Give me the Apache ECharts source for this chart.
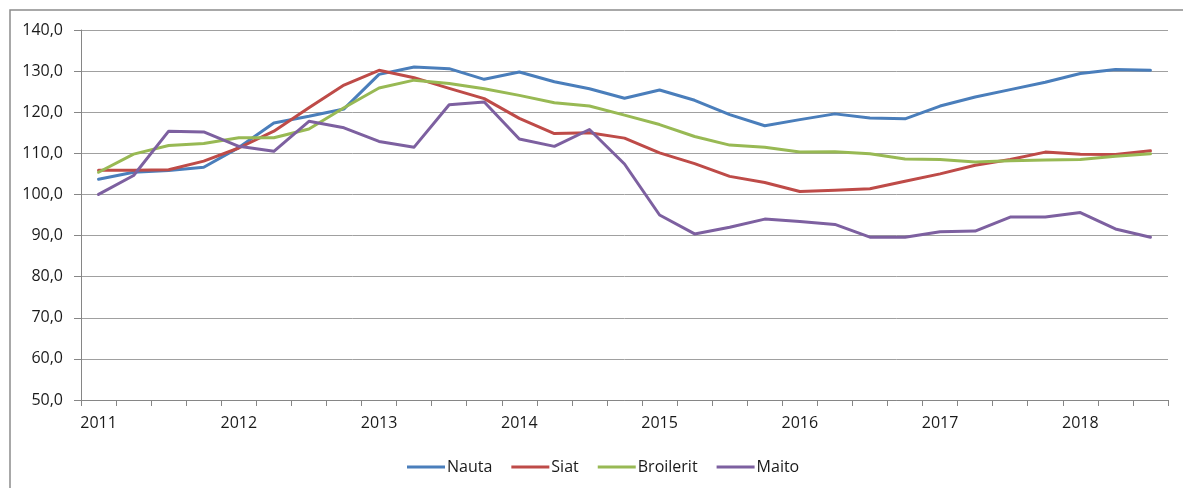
<!DOCTYPE html>
<html>
<head>
<meta charset="utf-8">
<script src="https://cdn.jsdelivr.net/npm/echarts@6/dist/echarts.min.js"></script>
<style>
  html, body { margin: 0; padding: 0; background: #fff; }
  #chart { width: 1183px; height: 488px; }
</style>
</head>
<body>
<div id="chart"></div>
<script>
var categories = [
  '2011Q1','2011Q2','2011Q3','2011Q4',
  '2012Q1','2012Q2','2012Q3','2012Q4',
  '2013Q1','2013Q2','2013Q3','2013Q4',
  '2014Q1','2014Q2','2014Q3','2014Q4',
  '2015Q1','2015Q2','2015Q3','2015Q4',
  '2016Q1','2016Q2','2016Q3','2016Q4',
  '2017Q1','2017Q2','2017Q3','2017Q4',
  '2018Q1','2018Q2','2018Q3'
];
var nauta = [103.7,105.4,105.8,106.6, 111.4,117.4,119.0,120.8, 129.2,131.0,130.6,128.0, 129.8,127.4,125.7,123.4, 125.4,122.9,119.4,116.7, 118.2,119.6,118.6,118.4, 121.5,123.7,125.5,127.3, 129.4,130.4,130.2];
var siat = [105.9,105.9,106.0,108.1, 111.3,115.4,121.1,126.6, 130.2,128.4,125.8,123.3, 118.5,114.8,115.0,113.7, 110.1,107.5,104.4,102.9, 100.7,101.0,101.4,103.2, 105.0,107.1,108.5,110.3, 109.8,109.7,110.6];
var broilerit = [105.4,109.8,111.9,112.4, 113.8,113.8,115.9,121.1, 125.9,127.8,127.0,125.7, 124.1,122.3,121.5,119.3, 117.0,114.1,112.0,111.5, 110.3,110.4,109.9,108.6, 108.5,107.9,108.2,108.4, 108.5,109.3,109.9];
var maito = [100.0,104.6,115.4,115.2, 111.7,110.5,117.8,116.2, 112.9,111.5,121.8,122.5, 113.5,111.7,115.8,107.4, 95.0,90.4,92.0,94.0, 93.4,92.7,89.6,89.6, 90.9,91.1,94.5,94.5, 95.6,91.6,89.6];
var seriesNames = ['Nauta','Siat','Broilerit','Maito'];
var seriesColors = ['#4A7EBB','#BE4B48','#98B954','#7D60A0'];
var seriesData = [nauta, siat, broilerit, maito];

var FONT = '"Open Sans", "Noto Sans", sans-serif';
var TXT = '#1a1a1a';

var chart = echarts.init(document.getElementById('chart'), null, {renderer: 'canvas'});
chart.setOption({
  animation: false,
  backgroundColor: '#ffffff',
  graphic: [{
    type: 'rect',
    shape: {x: 10, y: 10, width: 1200, height: 520},
    style: {fill: 'none', stroke: '#8c8c8c', lineWidth: 1.5},
    silent: true,
    z: -1
  }],
  grid: {left: 81, right: 15, top: 30, bottom: 88, containLabel: false},
  legend: {
    data: seriesNames,
    left: 402,
    top: 454,
    icon: 'rect',
    itemWidth: 38,
    itemHeight: 3,
    itemGap: 19,
    textStyle: {fontFamily: FONT, fontSize: 16, color: TXT, padding: [0,0,0,-3]}
  },
  xAxis: {
    type: 'category',
    data: categories,
    boundaryGap: true,
    axisLine: {show: true, lineStyle: {color: '#868686', width: 1}},
    axisTick: {show: true, interval: 0, length: 6, lineStyle: {color: '#868686'}},
    axisLabel: {
      interval: 3,
      margin: 15,
      fontFamily: FONT, fontSize: 16, color: TXT,
      formatter: function (v) { return v.substring(0, 4); }
    },
    splitLine: {show: false}
  },
  yAxis: {
    type: 'value',
    min: 50, max: 140, interval: 10,
    axisLine: {show: true, lineStyle: {color: '#868686', width: 1}},
    axisTick: {show: true, length: 7, lineStyle: {color: '#868686'}},
    axisLabel: {
      margin: 18,
      fontFamily: FONT, fontSize: 16, color: TXT,
      formatter: function (v) { return v.toFixed(1).replace('.', ','); }
    },
    splitLine: {show: true, lineStyle: {color: '#a0a0a0', width: 1}}
  },
  series: seriesNames.map(function (name, i) {
    return {
      name: name,
      type: 'line',
      data: seriesData[i],
      symbol: 'none',
      showSymbol: false,
      color: seriesColors[i],
      lineStyle: {width: 3, color: seriesColors[i], cap: 'round', join: 'round'},
      itemStyle: {color: seriesColors[i]}
    };
  })
});
</script>
</body>
</html>
